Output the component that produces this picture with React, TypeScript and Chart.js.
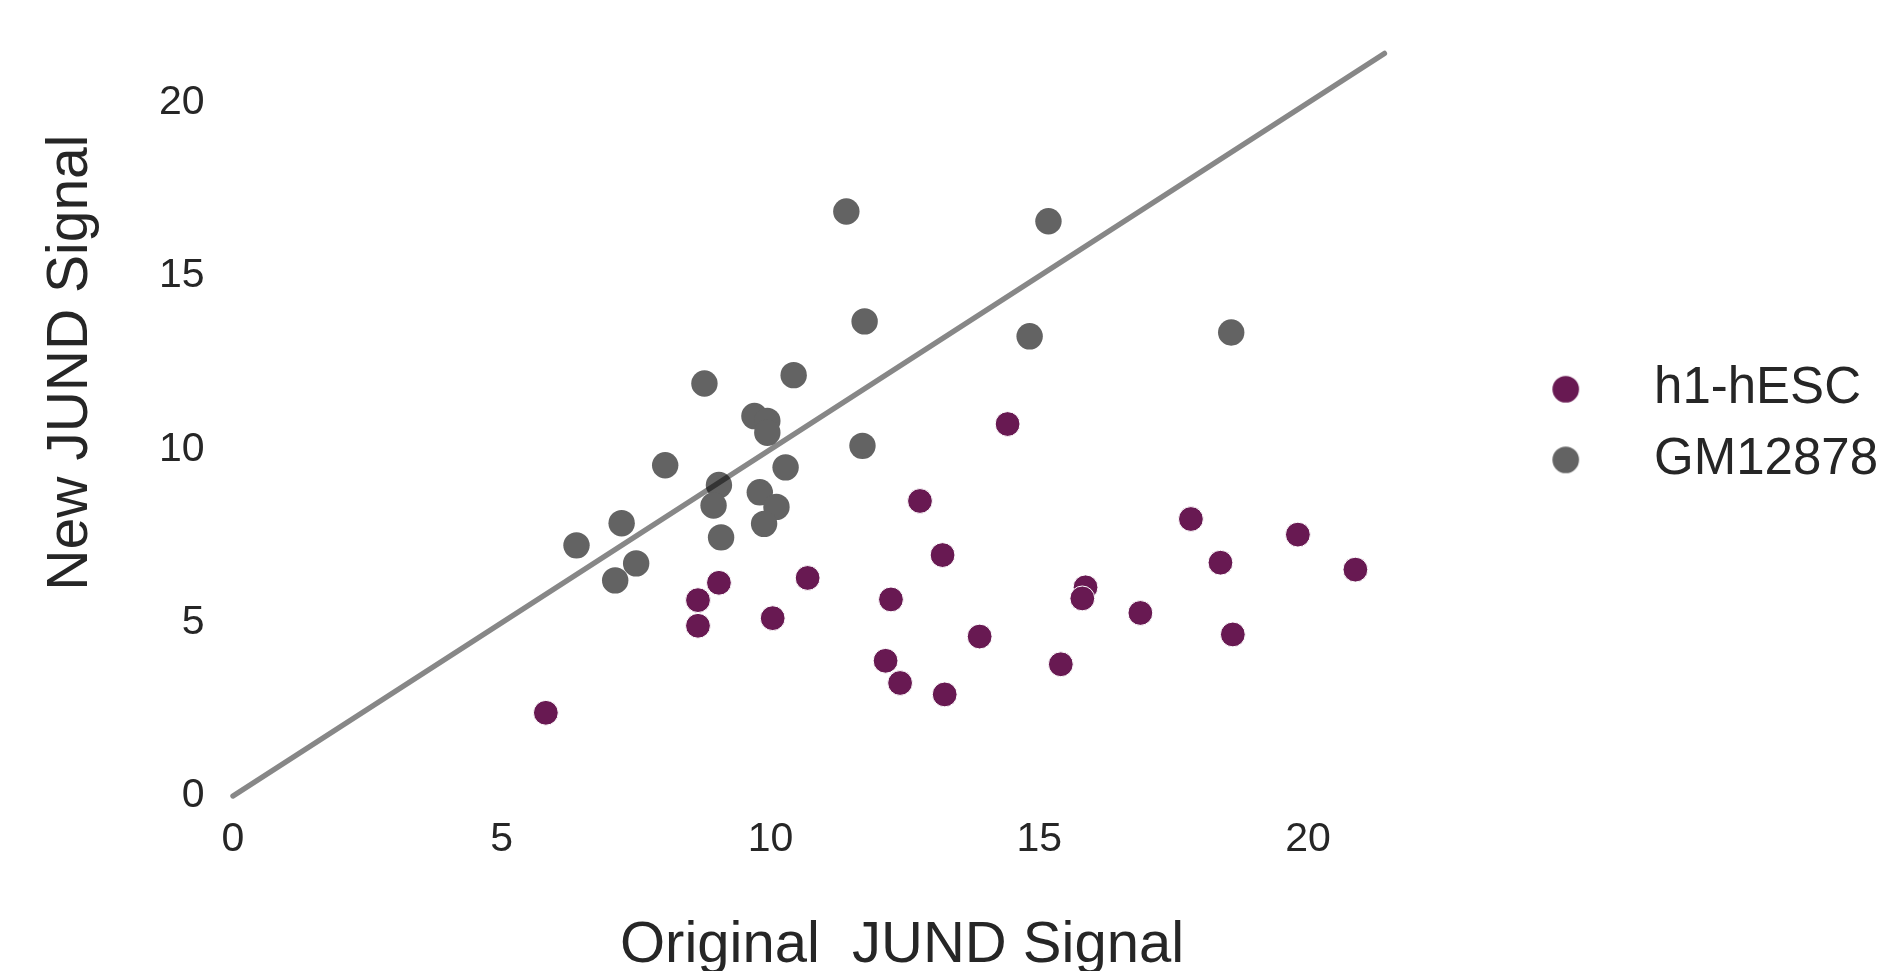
import React, { useEffect, useRef } from "react";
import { Chart, registerables } from "chart.js";

Chart.register(...registerables);

// ---- data ----
const seriesNames = ["h1-hESC", "GM12878"];

const h1X = [12.78, 13.2, 10.69, 9.04, 8.65, 8.65, 10.04, 12.24, 13.89, 12.14, 12.41, 13.24, 5.82, 14.41, 17.82, 19.81, 18.37, 20.88, 15.86, 15.8, 16.88, 18.6, 15.4];
const h1Y = [8.51, 6.95, 6.29, 6.15, 5.65, 4.91, 5.13, 5.67, 4.6, 3.9, 3.26, 2.93, 2.4, 10.73, 7.99, 7.54, 6.73, 6.53, 6.02, 5.7, 5.28, 4.66, 3.8];

const gmX = [11.41, 11.75, 8.77, 10.43, 9.7, 9.94, 9.94, 8.04, 11.71, 10.28, 9.04, 8.94, 9.8, 10.11, 9.88, 9.08, 7.23, 6.39, 7.5, 7.11, 15.17, 14.82, 18.57];
const gmY = [16.86, 13.69, 11.9, 12.14, 10.96, 10.82, 10.48, 9.54, 10.1, 9.48, 8.97, 8.38, 8.76, 8.34, 7.85, 7.46, 7.87, 7.23, 6.71, 6.22, 16.58, 13.26, 13.37];

const diagonal = [0, 21.42];

const xTicks = [0, 5, 10, 15, 20];
const yTicks = [0, 5, 10, 15, 20];

const xTitle = "Original  JUND Signal";
const yTitle = "New JUND Signal";

// ---- styles ----
const PURPLE = "#681952";
const GRAY = "#636363";
const TEXT = "#262626";
const FONT = '"Liberation Sans", Arial, sans-serif';

function dot(color: string, r: number) {
  const c = document.createElement("canvas");
  const s = Math.ceil(r * 2 + 2);
  c.width = s;
  c.height = s;
  const ctx = c.getContext("2d")!;
  ctx.fillStyle = color;
  ctx.beginPath();
  ctx.arc(s / 2, s / 2, r, 0, Math.PI * 2);
  ctx.fill();
  return c;
}

const axisTitles = {
  id: "axisTitles",
  afterDraw(chart: any) {
    const { ctx, chartArea: a } = chart;
    ctx.save();
    ctx.fillStyle = TEXT;
    ctx.textAlign = "center";
    ctx.textBaseline = "alphabetic";
    ctx.font = `58px ${FONT}`;
    ctx.fillText(xTitle, a.left + 669, a.bottom + 166);
    ctx.font = `57px ${FONT}`;
    ctx.translate(a.left - 146, a.top + 309.5);
    ctx.rotate(-Math.PI / 2);
    ctx.fillText(yTitle, 0, 0);
    ctx.restore();
  },
};

export default function App() {
  const ref = useRef<HTMLCanvasElement | null>(null);

  useEffect(() => {
    if (!ref.current) return;
    Chart.defaults.font.family = FONT;
    const markers = [dot(PURPLE, 13.3), dot(GRAY, 13.3)];

    const chart = new Chart(ref.current, {
      type: "scatter",
      data: {
        datasets: [
          {
            label: seriesNames[0],
            data: h1X.map((x, i) => ({ x, y: h1Y[i] })),
            pointRadius: 12.4,
            pointHoverRadius: 12.4,
            pointBackgroundColor: PURPLE,
            pointBorderColor: "#ffffff",
            pointBorderWidth: 1,
            backgroundColor: PURPLE,
            order: 1,
          },
          {
            label: seriesNames[1],
            data: gmX.map((x, i) => ({ x, y: gmY[i] })),
            pointRadius: 13.2,
            pointHoverRadius: 13.2,
            pointBackgroundColor: GRAY,
            pointBorderWidth: 0,
            backgroundColor: GRAY,
            order: 2,
          },
          {
            label: "identity",
            data: diagonal.map((v) => ({ x: v, y: v })),
            showLine: true,
            borderColor: "rgba(0,0,0,0.47)",
            borderWidth: 5.4,
            borderCapStyle: "round",
            pointRadius: 0,
            pointHoverRadius: 0,
            clip: false,
            order: 0,
          } as any,
        ],
      },
      options: {
        responsive: false,
        animation: false,
        events: [],
        layout: { padding: { top: 49, right: 0, left: 0, bottom: 0 } },
        plugins: {
          tooltip: { enabled: false },
          legend: {
            position: "right",
            align: "center",
            fullSize: false,
            labels: {
              usePointStyle: true,
              pointStyleWidth: 125.6,
              padding: 19.6,
              color: TEXT,
              font: { size: 51, family: FONT },
              generateLabels: (c: any) =>
                (Chart.defaults.plugins.legend.labels as any)
                  .generateLabels(c)
                  .filter((l: any) => l.datasetIndex < 2)
                  .map((l: any) => ({ ...l, pointStyle: markers[l.datasetIndex], lineWidth: 0 })),
            },
          },
        },
        scales: {
          x: {
            type: "linear",
            min: 0,
            max: 23.26,
            grid: { display: false, drawTicks: false },
            border: { display: false },
            ticks: { color: TEXT, font: { size: 41, family: FONT }, padding: 19, includeBounds: false },
            afterBuildTicks: (s: any) => {
              s.ticks = xTicks.map((v) => ({ value: v }));
            },
            afterFit: (s: any) => {
              s.height = 175;
            },
          },
          y: {
            type: "linear",
            min: 0,
            max: 21.43,
            grid: { display: false, drawTicks: false },
            border: { display: false },
            ticks: { color: TEXT, font: { size: 41, family: FONT }, padding: 28.5, includeBounds: false },
            afterBuildTicks: (s: any) => {
              s.ticks = yTicks.map((v) => ({ value: v }));
            },
            afterFit: (s: any) => {
              s.width = 233;
            },
          },
        },
      } as any,
      plugins: [axisTitles],
    });
    return () => chart.destroy();
  }, []);

  return (
    <div style={{ position: "fixed", left: 0, top: 0, width: 1888, height: 971, background: "#fff" }}>
      <canvas ref={ref} width={1888} height={971} style={{ display: "block" }} />
    </div>
  );
}
